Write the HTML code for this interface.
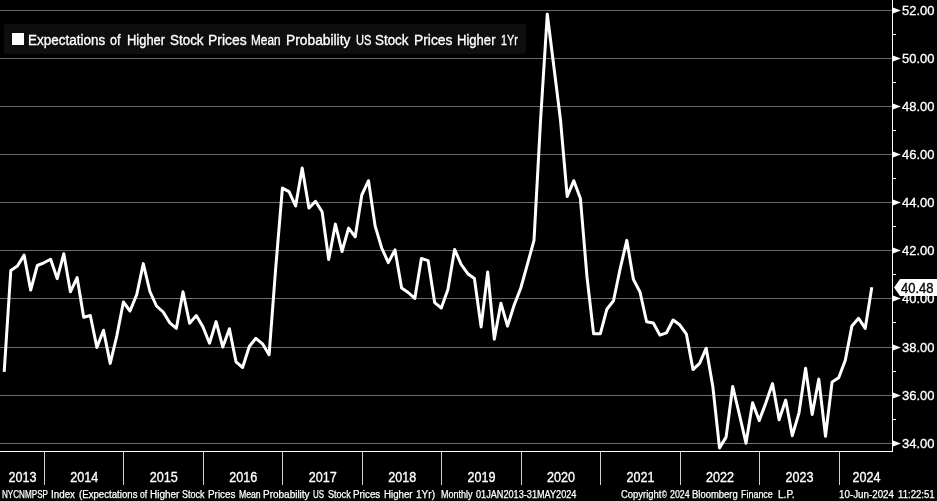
<!DOCTYPE html>
<html lang="en">
<head>
<meta charset="utf-8">
<title>NYCNMPSP Index</title>
<style>
html,body{margin:0;padding:0;background:#000;}
body{width:937px;height:501px;overflow:hidden;position:relative;font-family:"Liberation Sans","DejaVu Sans",sans-serif;color:#fff;}
svg{position:absolute;left:0;top:0;display:block;}
.ax{font-size:13px;fill:#fff;stroke:#fff;stroke-width:0.3px;font-family:"Liberation Sans",sans-serif;}
.yr{font-size:13px;fill:#fff;stroke:#fff;stroke-width:0.3px;font-family:"Liberation Sans",sans-serif;}
.legend{position:absolute;left:4px;top:24px;width:521.5px;height:29.5px;background:#0e0e0e;border-radius:3px;}
.legend .sw{position:absolute;left:8px;top:9px;width:12px;height:12px;background:#fff;}
.legend .w{-webkit-text-stroke:0.3px #fff;position:absolute;top:2px;height:29px;line-height:30px;font-size:13px;white-space:nowrap;color:#fff;transform-origin:0 20px;}
.legend .tx{position:absolute;left:24px;top:2px;height:29px;line-height:30px;font-size:13px;letter-spacing:0.245px;white-space:nowrap;color:#fff;transform:scaleY(1.065);transform-origin:0 20px;}
.foot{-webkit-text-stroke:0.25px #fff;position:absolute;top:487.5px;height:14px;line-height:14px;font-size:10px;white-space:nowrap;color:#fff;transform-origin:0 11px;}
.cur{-webkit-text-stroke:0.3px #000;position:absolute;left:901px;top:280px;width:36px;height:17px;line-height:18px;font-size:13px;color:#000;white-space:nowrap;transform:scaleY(1.055);transform-origin:0 13px;}
</style>
</head>
<body>
<svg width="937" height="501" viewBox="0 0 937 501">
<rect x="0" y="0" width="937" height="501" fill="#000"/>
<g shape-rendering="crispEdges">
<rect x="0" y="10" width="892" height="1" fill="#6c6c6c"/>
<rect x="0" y="58" width="892" height="1" fill="#6c6c6c"/>
<rect x="0" y="106" width="892" height="1" fill="#6c6c6c"/>
<rect x="0" y="154" width="892" height="1" fill="#6c6c6c"/>
<rect x="0" y="202" width="892" height="1" fill="#6c6c6c"/>
<rect x="0" y="250" width="892" height="1" fill="#6c6c6c"/>
<rect x="0" y="298" width="892" height="1" fill="#6c6c6c"/>
<rect x="0" y="347" width="892" height="1" fill="#6c6c6c"/>
<rect x="0" y="395" width="892" height="1" fill="#6c6c6c"/>
<rect x="0" y="443" width="892" height="1" fill="#6c6c6c"/>
<rect x="892" y="0" width="1" height="452" fill="#fff"/>
<rect x="0" y="451" width="893" height="1" fill="#fff"/>
<rect x="893" y="34" width="3" height="1" fill="#fff"/>
<rect x="893" y="82" width="3" height="1" fill="#fff"/>
<rect x="893" y="130" width="3" height="1" fill="#fff"/>
<rect x="893" y="178" width="3" height="1" fill="#fff"/>
<rect x="893" y="226" width="3" height="1" fill="#fff"/>
<rect x="893" y="274" width="3" height="1" fill="#fff"/>
<rect x="893" y="322" width="3" height="1" fill="#fff"/>
<rect x="893" y="371" width="3" height="1" fill="#fff"/>
<rect x="893" y="419" width="3" height="1" fill="#fff"/>
<rect x="44" y="451" width="1" height="34" fill="#d0d0d0"/>
<rect x="123" y="451" width="1" height="34" fill="#d0d0d0"/>
<rect x="203" y="451" width="1" height="34" fill="#d0d0d0"/>
<rect x="282" y="451" width="1" height="34" fill="#d0d0d0"/>
<rect x="362" y="451" width="1" height="34" fill="#d0d0d0"/>
<rect x="441" y="451" width="1" height="34" fill="#d0d0d0"/>
<rect x="521" y="451" width="1" height="34" fill="#d0d0d0"/>
<rect x="600" y="451" width="1" height="34" fill="#d0d0d0"/>
<rect x="680" y="451" width="1" height="34" fill="#d0d0d0"/>
<rect x="759" y="451" width="1" height="34" fill="#d0d0d0"/>
<rect x="839" y="451" width="1" height="34" fill="#d0d0d0"/>
</g>
<polygon points="893,7.6 893,13.4 900.9,10.5" fill="#fff"/>
<polygon points="893,55.6 893,61.4 900.9,58.5" fill="#fff"/>
<polygon points="893,103.6 893,109.4 900.9,106.5" fill="#fff"/>
<polygon points="893,151.6 893,157.4 900.9,154.5" fill="#fff"/>
<polygon points="893,199.6 893,205.4 900.9,202.5" fill="#fff"/>
<polygon points="893,247.6 893,253.4 900.9,250.5" fill="#fff"/>
<polygon points="893,295.6 893,301.4 900.9,298.5" fill="#fff"/>
<polygon points="893,344.6 893,350.4 900.9,347.5" fill="#fff"/>
<polygon points="893,392.6 893,398.4 900.9,395.5" fill="#fff"/>
<polygon points="893,440.6 893,446.4 900.9,443.5" fill="#fff"/>

<polyline points="4.2,371.8 10.8,270.5 17.4,266.0 24.1,255.1 30.7,290.1 37.3,265.5 43.9,262.8 50.6,259.2 57.2,278.6 63.8,253.7 70.4,291.8 77.1,277.6 83.7,317.3 90.3,315.5 96.9,347.4 103.5,330.2 110.2,363.4 116.8,336.0 123.4,302.0 130.0,311.0 136.7,294.7 143.3,263.6 149.9,291.5 156.5,306.0 163.2,312.0 169.8,322.9 176.4,328.3 183.0,291.7 189.6,323.2 196.3,315.6 202.9,326.8 209.5,343.2 216.1,321.6 222.8,347.1 229.4,328.7 236.0,361.8 242.6,367.5 249.3,346.5 255.9,338.3 262.5,343.8 269.1,354.8 275.7,268.0 282.4,188.1 289.0,191.6 295.6,205.9 302.2,168.0 308.9,208.1 315.5,201.3 322.1,211.7 328.7,259.5 335.4,224.1 342.0,251.5 348.6,228.1 355.2,236.9 361.8,195.0 368.5,180.7 375.1,225.9 381.7,248.0 388.3,262.6 395.0,249.9 401.6,288.0 408.2,292.5 414.8,298.4 421.4,258.5 428.1,260.6 434.7,302.7 441.3,308.0 447.9,289.5 454.6,249.4 461.2,264.5 467.8,273.7 474.4,278.5 481.1,326.9 487.7,272.0 494.3,339.2 500.9,303.2 507.5,326.1 514.2,305.0 520.8,288.0 527.4,264.4 534.0,240.3 540.7,118.0 547.3,14.2 553.9,67.0 560.5,120.0 567.2,196.5 573.8,180.7 580.4,198.4 587.0,277.0 593.6,333.8 600.3,333.8 606.9,309.2 613.5,300.8 620.1,269.0 626.8,240.4 633.4,279.4 640.0,292.0 646.6,321.8 653.3,323.0 659.9,335.1 666.5,332.8 673.1,320.0 679.7,324.8 686.4,334.2 693.0,369.6 699.6,363.3 706.2,348.2 712.9,387.1 719.5,447.9 726.1,437.1 732.7,386.5 739.4,414.5 746.0,443.2 752.6,402.8 759.2,420.6 765.8,403.1 772.5,383.6 779.1,419.8 785.7,400.1 792.3,435.7 799.0,412.8 805.6,368.2 812.2,414.6 818.8,379.1 825.5,436.3 832.1,381.9 838.7,377.8 845.3,360.2 851.9,326.1 858.6,318.3 865.2,328.4 871.8,287.2" fill="none" stroke="#fff" stroke-width="3" stroke-linejoin="round" stroke-linecap="butt"/>
<polygon points="894,287.5 900,279 937,279 937,296 900,296" fill="#fff"/>
<text transform="translate(902,15.3) scale(1,1.035)" class="ax">52.00</text>
<text transform="translate(902,63.3) scale(1,1.035)" class="ax">50.00</text>
<text transform="translate(902,111.3) scale(1,1.035)" class="ax">48.00</text>
<text transform="translate(902,159.3) scale(1,1.035)" class="ax">46.00</text>
<text transform="translate(902,207.3) scale(1,1.035)" class="ax">44.00</text>
<text transform="translate(902,255.3) scale(1,1.035)" class="ax">42.00</text>
<text transform="translate(902,303.3) scale(1,1.035)" class="ax">40.00</text>
<text transform="translate(902,352.3) scale(1,1.035)" class="ax">38.00</text>
<text transform="translate(902,400.3) scale(1,1.035)" class="ax">36.00</text>
<text transform="translate(902,448.3) scale(1,1.035)" class="ax">34.00</text>
<text transform="translate(22.5,482) scale(0.97,1.055)" text-anchor="middle" class="yr">2013</text>
<text transform="translate(84.2,482) scale(0.97,1.055)" text-anchor="middle" class="yr">2014</text>
<text transform="translate(163.7,482) scale(0.97,1.055)" text-anchor="middle" class="yr">2015</text>
<text transform="translate(243.2,482) scale(0.97,1.055)" text-anchor="middle" class="yr">2016</text>
<text transform="translate(322.7,482) scale(0.97,1.055)" text-anchor="middle" class="yr">2017</text>
<text transform="translate(402.2,482) scale(0.97,1.055)" text-anchor="middle" class="yr">2018</text>
<text transform="translate(481.6,482) scale(0.97,1.055)" text-anchor="middle" class="yr">2019</text>
<text transform="translate(561.1,482) scale(0.97,1.055)" text-anchor="middle" class="yr">2020</text>
<text transform="translate(640.6,482) scale(0.97,1.055)" text-anchor="middle" class="yr">2021</text>
<text transform="translate(720.1,482) scale(0.97,1.055)" text-anchor="middle" class="yr">2022</text>
<text transform="translate(799.6,482) scale(0.97,1.055)" text-anchor="middle" class="yr">2023</text>
<text transform="translate(866.4,482) scale(0.97,1.055)" text-anchor="middle" class="yr">2024</text>
</svg>
<div class="legend"><span class="sw"></span><span class="w" style="left:23.7px;transform:scale(1.036,1.065)">Expectations</span> <span class="w" style="left:105.6px;transform:scale(0.968,1.065)">of</span> <span class="w" style="left:123.2px;transform:scale(0.995,1.065)">Higher</span> <span class="w" style="left:165.5px;transform:scale(1.033,1.065)">Stock</span> <span class="w" style="left:203.6px;transform:scale(1.071,1.065)">Prices</span> <span class="w" style="left:247.1px;transform:scale(0.910,1.065)">Mean</span> <span class="w" style="left:282.0px;transform:scale(1.061,1.065)">Probability</span> <span class="w" style="left:351.5px;transform:scale(0.853,1.065)">US</span> <span class="w" style="left:371.4px;transform:scale(1.030,1.065)">Stock</span> <span class="w" style="left:409.7px;transform:scale(1.063,1.065)">Prices</span> <span class="w" style="left:452.9px;transform:scale(1.005,1.065)">Higher</span> <span class="w" style="left:497.0px;transform:scale(0.830,1.065)">1Yr</span> </div>
<div class="cur">40.48</div>
<div class="footer"><span class="foot" style="left:2.2px;transform:scale(0.811,1.0)">NYCNMPSP</span> <span class="foot" style="left:51.2px;transform:scale(0.981,1.0)">Index</span> <span class="foot" style="left:78.5px;transform:scale(0.965,1.0)">(Expectations</span> <span class="foot" style="left:139.6px;transform:scale(0.851,1.0)">of</span> <span class="foot" style="left:150.0px;transform:scale(0.994,1.0)">Higher</span> <span class="foot" style="left:182.3px;transform:scale(0.903,1.0)">Stock</span> <span class="foot" style="left:208.2px;transform:scale(0.989,1.0)">Prices</span> <span class="foot" style="left:238.6px;transform:scale(0.867,1.0)">Mean</span> <span class="foot" style="left:263.4px;transform:scale(0.998,1.0)">Probability</span> <span class="foot" style="left:313.2px;transform:scale(0.791,1.0)">US</span> <span class="foot" style="left:327.5px;transform:scale(0.907,1.0)">Stock</span> <span class="foot" style="left:353.3px;transform:scale(0.982,1.0)">Prices</span> <span class="foot" style="left:383.9px;transform:scale(0.971,1.0)">Higher</span> <span class="foot" style="left:415.6px;transform:scale(1.010,1.0)">1Yr)</span> <span class="foot" style="left:441.1px;transform:scale(0.900,1.0)">Monthly</span> <span class="foot" style="left:475.9px;transform:scale(0.914,1.0)">01JAN2013-31MAY2024</span> <span class="foot" style="left:621.1px;transform:scale(0.944,1.0)">Copyright</span> <span class="foot" style="left:661.6px;transform:scale(0.637,1.0)">&#169;</span> <span class="foot" style="left:669.6px;transform:scale(0.881,1.0)">2024</span> <span class="foot" style="left:692.3px;transform:scale(0.945,1.0)">Bloomberg</span> <span class="foot" style="left:741.0px;transform:scale(0.894,1.0)">Finance</span> <span class="foot" style="left:777.5px;transform:scale(1.006,1.0)">L.P.</span> <span class="foot" style="left:839.4px;transform:scale(0.979,1.0)">10-Jun-2024</span> <span class="foot" style="left:897.8px;transform:scale(0.961,1.0)">11:22:51</span> </div>
</body>
</html>
